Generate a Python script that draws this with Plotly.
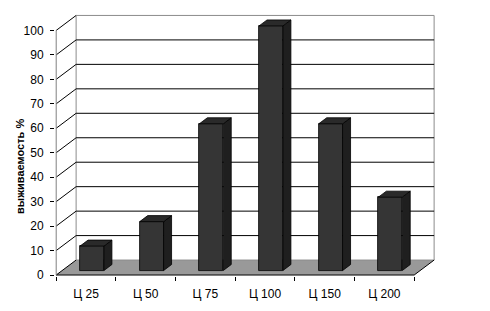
import plotly.graph_objects as go

categories = ["Ц 25", "Ц 50", "Ц 75", "Ц 100", "Ц 150", "Ц 200"]
values = [10, 20, 60, 100, 60, 30]
y_ticks = list(range(0, 101, 10))
y_title = "выживаемость %"

# 3D oblique projection parameters (in data units)
DX, DY = 0.334, 6.12
D0, D1 = 0.3, 0.7
HALF = 0.2
n = len(categories)
X0, X1 = -0.5, n - 0.5
YMAX = max(y_ticks)


def proj(x, v, d):
    return (x + d * DX, v + d * DY)


def path(points, close=False):
    s = "M " + " L ".join(f"{x},{y}" for x, y in points)
    return s + (" Z" if close else "")


shapes = []
# floor
shapes.append(dict(type="path", xref="x", yref="y", layer="below",
                   path=path([proj(X0, 0, 0), proj(X1, 0, 0), proj(X1, 0, 1), proj(X0, 0, 1)], True),
                   fillcolor="#999999", line=dict(width=0)))
# back wall
bl = proj(X0, 0, 1)
tr = proj(X1, YMAX, 1)
shapes.append(dict(type="rect", xref="x", yref="y", layer="below",
                   x0=bl[0], y0=bl[1], x1=tr[0], y1=tr[1],
                   fillcolor="white", line=dict(color="#8c8c8c", width=1)))
# gridlines (left wall + back wall)
for v in y_ticks[1:-1]:
    shapes.append(dict(type="path", xref="x", yref="y", layer="below",
                       path=path([proj(X0, v, 0), proj(X0, v, 1), proj(X1, v, 1)]),
                       line=dict(color="black", width=1)))
for v in (0, YMAX):
    shapes.append(dict(type="path", xref="x", yref="y", layer="below",
                       path=path([proj(X0, v, 0), proj(X0, v, 1)]),
                       line=dict(color="black", width=1)))
# floor right edge and front edge
shapes.append(dict(type="path", xref="x", yref="y", layer="below",
                   path=path([proj(X1, 0, 0), proj(X1, 0, 1)]),
                   line=dict(color="black", width=1)))
shapes.append(dict(type="path", xref="x", yref="y", layer="above",
                   path=path([proj(X0, 0, 0), proj(X1, 0, 0)]),
                   line=dict(color="black", width=1)))
# front value axis
shapes.append(dict(type="path", xref="x", yref="y", layer="above",
                   path=path([proj(X0, 0, 0), proj(X0, YMAX, 0)]),
                   line=dict(color="#808080", width=1)))

fig = go.Figure()

# front faces of bars
fig.add_trace(go.Bar(
    x=[i + D0 * DX for i in range(n)], y=values, base=D0 * DY, width=2 * HALF,
    marker=dict(color="#353535", line=dict(color="black", width=0.8)),
    hoverinfo="skip", showlegend=False))

# side and top faces
sx, sy, tx, ty = [], [], [], []
for i, v in enumerate(values):
    side = [proj(i + HALF, 0, D0), proj(i + HALF, 0, D1), proj(i + HALF, v, D1), proj(i + HALF, v, D0), proj(i + HALF, 0, D0)]
    top = [proj(i - HALF, v, D0), proj(i + HALF, v, D0), proj(i + HALF, v, D1), proj(i - HALF, v, D1), proj(i - HALF, v, D0)]
    for p in side:
        sx.append(p[0]); sy.append(p[1])
    sx.append(None); sy.append(None)
    for p in top:
        tx.append(p[0]); ty.append(p[1])
    tx.append(None); ty.append(None)

fig.add_trace(go.Scatter(x=sx, y=sy, mode="lines", fill="toself", fillcolor="#1f1f1f",
                         line=dict(color="black", width=0.8), hoverinfo="skip", showlegend=False))
fig.add_trace(go.Scatter(x=tx, y=ty, mode="lines", fill="toself", fillcolor="#2a2a2a",
                         line=dict(color="black", width=0.8), hoverinfo="skip", showlegend=False))

font = dict(family="Arial, 'Liberation Sans', sans-serif", size=12, color="black")

fig.update_layout(
    width=490, height=311,
    margin=dict(l=55, r=55, t=13, b=35),
    paper_bgcolor="white", plot_bgcolor="white",
    shapes=shapes,
    font=font,
    showlegend=False,
    bargap=0,
    annotations=[dict(text=y_title, xref="paper", yref="paper", x=-0.092, y=0.415,
                      textangle=-90, showarrow=False, xanchor="center", yanchor="middle",
                      font=dict(family="Arial, 'Liberation Sans', sans-serif", size=11, color="black", weight="bold"))],
)
fig.update_xaxes(range=[X0 - 0.02, X1 + DX + 0.015], tickmode="array",
                 tickvals=list(range(n)), ticktext=categories, ticks="",
                 minor=dict(tickmode="array", tickvals=[k - 0.5 for k in range(n + 1)],
                            ticks="outside", ticklen=4, tickcolor="black", showgrid=False),
                 showgrid=False, zeroline=False, showline=False, ticklabelstandoff=9,
                 automargin=False, fixedrange=True)
fig.update_yaxes(range=[-0.4, YMAX + DY + 1], tickmode="array", tickvals=y_ticks,
                 ticks="outside", ticklen=4, tickcolor="black",
                 showgrid=False, zeroline=False, showline=False, ticklabelstandoff=4,
                 automargin=False, fixedrange=True)

fig.write_html("out.html", config={"displayModeBar": False},
               post_script="document.body.style.margin='0';")
